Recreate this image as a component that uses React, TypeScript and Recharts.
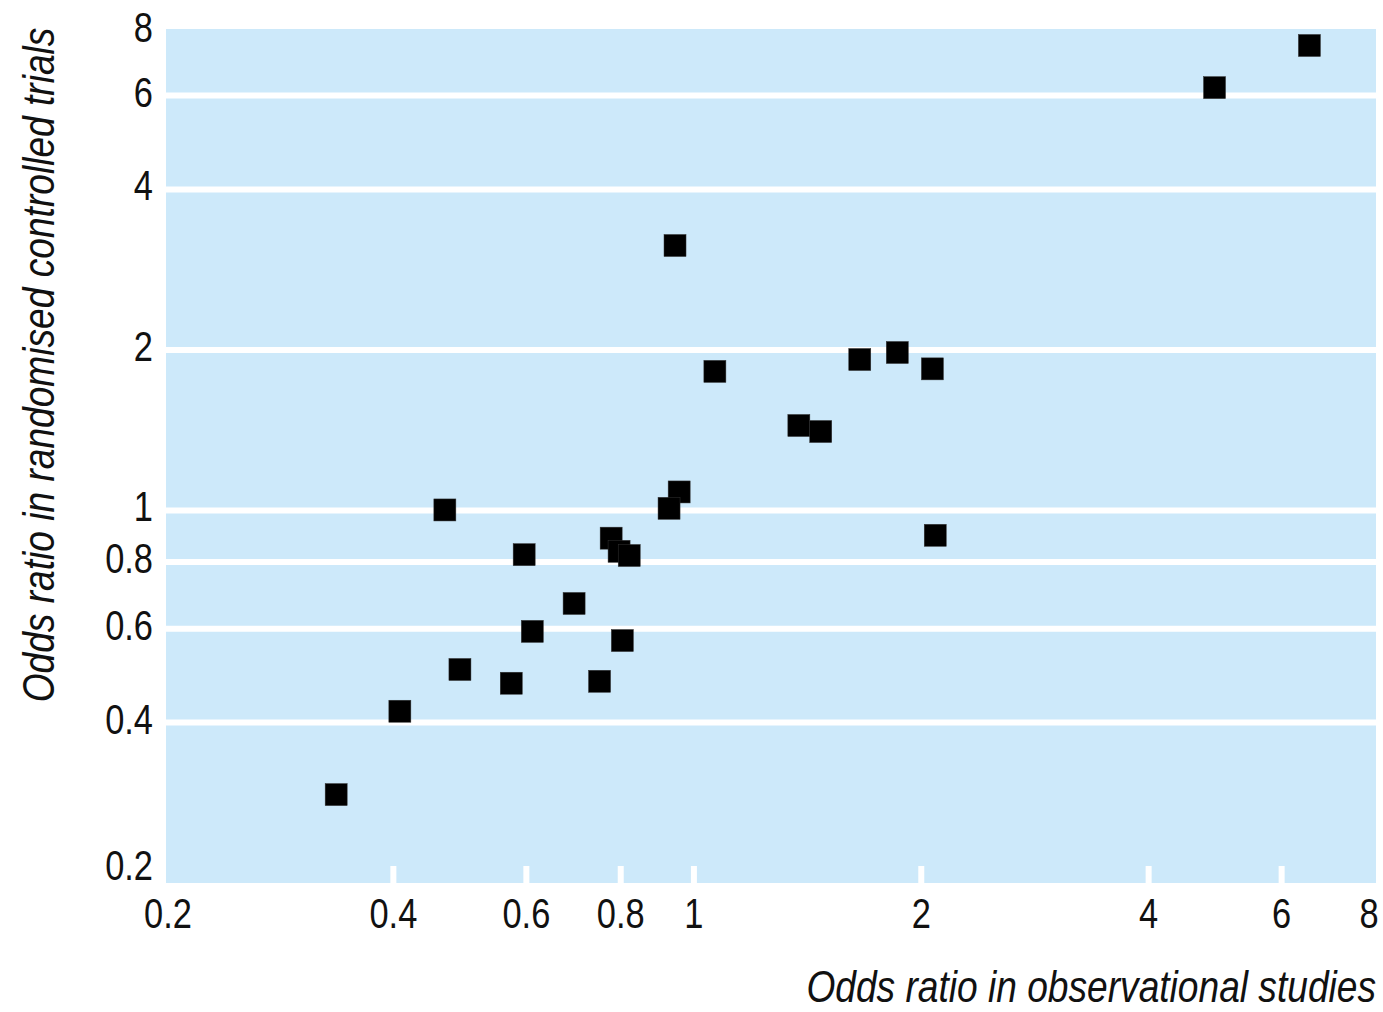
import React from 'react';
import { ScatterChart, Scatter, XAxis, YAxis, CartesianGrid } from 'recharts';

const observationalOR = [6.53, 4.89, 0.944, 1.066, 1.658, 1.859, 2.069, 1.377, 1.472, 0.956, 0.927, 0.468, 2.087, 0.777, 0.796, 0.821, 0.596, 0.694, 0.611, 0.804, 0.49, 0.573, 0.75, 0.408, 0.336];
const rctOR = [7.45, 6.21, 3.14, 1.823, 1.919, 1.978, 1.843, 1.443, 1.406, 1.083, 1.009, 1.002, 0.898, 0.887, 0.838, 0.823, 0.826, 0.669, 0.593, 0.57, 0.503, 0.474, 0.478, 0.42, 0.293];
const xTicks = [0.2, 0.4, 0.6, 0.8, 1, 2, 4, 6, 8];
const yTicks = [0.2, 0.4, 0.6, 0.8, 1, 2, 4, 6, 8];
const yGridValues = [0.4, 0.6, 0.8, 1, 2, 4, 6];
const xTickMarks = [0.4, 0.6, 0.8, 1, 2, 4, 6];

const points = observationalOR.map((x, i) => ({ x, y: rctOR[i] }));

const FONT = "'Liberation Sans', Arial, sans-serif";
const BLUE = '#cde9fa';
const NARROW = 0.82;
const TITLE_NARROW = 0.825;

const XTick = (props: any) => {
  const { x, y, payload } = props;
  const v = payload.value;
  const shift = v === 8 ? -7 : v === 0.2 ? 2 : 0;
  return (
    <g>
      {xTickMarks.includes(v) && (
        <line x1={x} x2={x} y1={y - 32} y2={y - 15} stroke="#ffffff" strokeWidth={6} />
      )}
      <text
        transform={`translate(${x + shift} ${y}) scale(${NARROW} 1)`}
        x={0}
        y={0}
        dy={30}
        textAnchor="middle"
        fontFamily={FONT}
        fontSize={42}
        fill="#111"
      >
        {String(v)}
      </text>
    </g>
  );
};

const YTick = (props: any) => {
  const { x, y, payload } = props;
  const v = payload.value;
  const dy = v === 0.2 ? -3 : v === 8 ? 13 : 11;
  return (
    <text
      transform={`translate(${x} ${y}) scale(${NARROW} 1)`}
      x={0}
      y={0}
      dy={dy}
      textAnchor="end"
      fontFamily={FONT}
      fontSize={42}
      fill="#111"
    >
      {String(v)}
    </text>
  );
};

const Square = (props: any) => {
  const { cx, cy } = props;
  return <rect x={cx - 11} y={cy - 11} width={22} height={22} fill="#000" stroke="#333" strokeWidth={0.5} />;
};

export default function App() {
  return (
    <div style={{ position: 'absolute', left: 0, top: 0, width: 1383, height: 1012, background: '#fff' }}>
      <ScatterChart width={1383} height={1012} margin={{ top: 29, right: 7, bottom: 0, left: 0 }}>
        <CartesianGrid
          fill={BLUE}
          fillOpacity={1}
          vertical={false}
          stroke="#ffffff"
          strokeWidth={6}
          horizontalValues={yGridValues}
        />
        <XAxis
          dataKey="x"
          type="number"
          scale="log"
          domain={[0.2, 8]}
          ticks={xTicks}
          interval={0}
          allowDataOverflow
          axisLine={false}
          tickLine={false}
          tickSize={0}
          tickMargin={15}
          height={129}
          tick={<XTick />}
          label={() => (
            <text
              transform={`translate(1376 1002) scale(${TITLE_NARROW} 1)`}
              x={0}
              y={0}
              textAnchor="end"
              fontFamily={FONT}
              fontStyle="italic"
              fontSize={45}
              fill="#111"
            >
              Odds ratio in observational studies
            </text>
          )}
        />
        <YAxis
          dataKey="y"
          type="number"
          scale="log"
          domain={[0.2, 8]}
          ticks={yTicks}
          interval={0}
          allowDataOverflow
          axisLine={false}
          tickLine={false}
          tickSize={0}
          tickMargin={13}
          width={166}
          tick={<YTick />}
          label={() => (
            <text
              transform={`translate(54 365) rotate(-90) scale(${TITLE_NARROW} 1)`}
              x={0}
              y={0}
              textAnchor="middle"
              fontFamily={FONT}
              fontStyle="italic"
              fontSize={45}
              fill="#111"
            >
              Odds ratio in randomised controlled trials
            </text>
          )}
        />
        <Scatter data={points} shape={<Square />} isAnimationActive={false} />
      </ScatterChart>
    </div>
  );
}
